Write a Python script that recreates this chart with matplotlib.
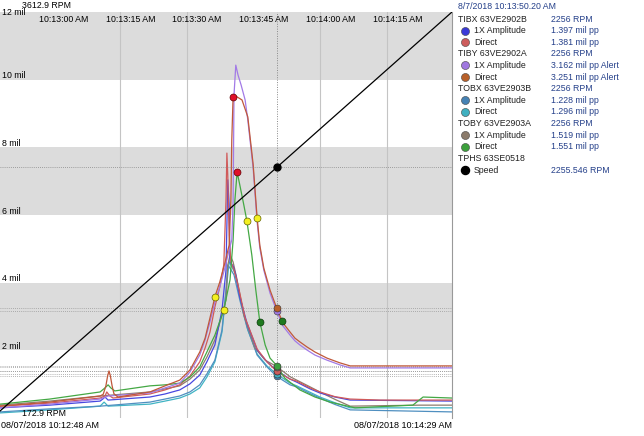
import matplotlib
matplotlib.use("Agg")
import matplotlib.pyplot as plt
from matplotlib.lines import Line2D
from matplotlib.transforms import blended_transform_factory

plt.rcParams['font.family'] = ['Liberation Sans', 'DejaVu Sans']
FS = 6.3

# ---------------- data (time in s since 10:12:48, amplitude in mil pp) ----------------
tiby_dir_t = [0, 11.2, 22.5, 23.2, 23.8, 24.2, 24.5, 24.8, 25.2, 25.6, 26.5, 33.7, 37.1, 40.4, 42.7, 44.9,
              46.1, 47.2, 48.3, 49.4, 50.6, 51.5, 51.9, 52.1, 52.4, 53.3, 54.4, 55.7, 56.9, 57.8, 58.4,
              59.3, 60.7, 62.2, 63.6, 65.2, 66.3, 67.4, 69.0, 70.8, 73.5, 76.4, 78.7, 85.4, 94.4, 101.6]
tiby_dir_v = [0.35, 0.47, 0.65, 0.70, 0.95, 1.25, 1.39, 1.25, 0.95, 0.72, 0.62, 0.77, 0.95, 1.12, 1.42, 1.95,
              2.36, 2.96, 3.58, 4.02, 4.61, 5.11, 6.44, 8.22, 9.52, 9.49, 9.40, 8.90, 7.50, 5.91, 5.11,
              4.43, 3.78, 3.25, 2.81, 2.54, 2.36, 2.25, 2.10, 1.95, 1.77, 1.63, 1.54, 1.54, 1.54, 1.54]

tiby_1x_t = [0, 11.2, 22.5, 24.3, 33.7, 37.1, 40.4, 42.7, 44.9, 46.1, 47.2, 48.3, 49.4, 50.6, 51.5, 52.1,
             52.4, 52.6, 53.0, 53.5, 54.2, 55.1, 55.7, 56.9, 57.8, 58.4, 59.3, 60.7, 62.2, 63.6, 65.2,
             66.3, 67.4, 69.0, 70.8, 73.5, 76.4, 78.7, 101.6]
tiby_1x_v = [0.30, 0.41, 0.56, 0.65, 0.74, 0.89, 1.03, 1.36, 1.86, 2.31, 2.84, 3.43, 3.87, 4.46, 4.97, 5.26,
             6.44, 9.55, 10.43, 10.14, 9.84, 9.40, 8.81, 7.39, 5.79, 5.03, 4.37, 3.69, 3.16, 2.72, 2.45,
             2.28, 2.16, 2.01, 1.86, 1.71, 1.57, 1.48, 1.48]

tibx_dir_t = [0, 11.2, 22.5, 23.6, 24.0, 24.7, 25.4, 33.7, 37.1, 40.4, 42.7, 44.9, 46.1, 47.2, 48.3, 49.4,
              50.3, 50.8, 51.0, 51.2, 51.5, 51.9, 52.6, 53.5, 55.1, 57.8, 60.0, 62.2, 65.2, 66.7, 69.7,
              71.9, 75.3, 78.7, 85.4, 101.6]
tibx_dir_v = [0.35, 0.44, 0.59, 0.65, 0.77, 0.65, 0.59, 0.71, 0.83, 0.98, 1.24, 1.66, 2.07, 2.54, 3.28, 3.87,
              4.52, 6.44, 7.83, 7.18, 5.41, 4.61, 4.37, 3.93, 2.96, 2.04, 1.66, 1.38, 1.15, 1.09, 0.89,
              0.77, 0.63, 0.56, 0.53, 0.53]

tibx_1x_t = [0, 11.2, 22.5, 23.1, 23.6, 24.3, 33.7, 37.1, 40.4, 42.7, 44.9, 46.5, 48.3, 49.9, 50.8, 51.2,
             51.5, 51.7, 52.4, 53.0, 53.9, 55.5, 57.8, 60.0, 62.2, 65.2, 66.7, 69.7, 71.9, 75.3, 78.7, 101.6]
tibx_1x_v = [0.30, 0.38, 0.50, 0.56, 0.62, 0.53, 0.62, 0.71, 0.83, 1.01, 1.27, 1.66, 2.16, 3.19, 4.37, 7.04,
             6.30, 4.61, 4.49, 4.23, 3.58, 2.81, 2.01, 1.66, 1.40, 1.15, 1.06, 0.86, 0.74, 0.62, 0.53, 0.50]

tobx_1x_t = [0, 11.2, 22.5, 33.7, 37.1, 40.4, 42.7, 44.9, 46.5, 48.3, 49.9, 50.8, 51.2, 51.7, 52.6, 53.9,
             55.5, 57.8, 60.0, 62.2, 65.2, 66.7, 69.7, 71.9, 75.3, 78.7, 101.6]
tobx_1x_v = [0.18, 0.27, 0.35, 0.47, 0.56, 0.65, 0.77, 0.98, 1.30, 1.71, 2.60, 3.78, 4.52, 4.43, 4.23, 3.49,
             2.69, 1.86, 1.51, 1.23, 0.98, 0.92, 0.72, 0.59, 0.40, 0.24, 0.18]

tobx_dir_t = [0, 11.2, 22.5, 23.4, 24.3, 33.7, 37.1, 40.4, 42.7, 44.9, 46.5, 48.3, 49.9, 50.8, 51.5, 51.9,
              52.8, 54.2, 55.7, 57.8, 60.0, 62.2, 65.2, 66.7, 69.7, 71.9, 75.3, 78.7, 101.6]
tobx_dir_v = [0.15, 0.24, 0.35, 0.47, 0.35, 0.41, 0.50, 0.59, 0.71, 0.89, 1.21, 1.66, 2.54, 3.72, 4.61, 4.52,
              4.29, 3.43, 2.60, 1.89, 1.54, 1.30, 1.03, 0.95, 0.76, 0.62, 0.45, 0.30, 0.30]

toby_1x_t = [0, 11.2, 22.5, 33.7, 37.1, 40.4, 42.7, 44.9, 46.5, 48.3, 49.9, 50.8, 51.2, 51.7, 52.4, 53.3,
             54.8, 57.3, 59.6, 62.2, 65.2, 66.7, 69.7, 71.9, 75.3, 78.7, 94.4, 101.6]
toby_1x_v = [0.38, 0.50, 0.65, 0.77, 0.86, 0.95, 1.15, 1.42, 1.80, 2.31, 3.04, 3.49, 4.52, 4.82, 4.61, 4.08,
             3.04, 2.07, 1.71, 1.52, 1.22, 1.12, 0.92, 0.77, 0.55, 0.35, 0.38, 0.38]

toby_dir_t = [0, 11.2, 22.5, 23.6, 24.3, 24.9, 25.8, 33.7, 37.1, 40.4, 42.7, 44.9, 46.5, 48.3, 50.3, 51.7,
              52.4, 52.8, 53.3, 53.9, 54.8, 55.5, 56.6, 57.5, 58.4, 59.6, 60.7, 62.2, 64.0, 67.4, 70.8,
              74.2, 79.8, 92.8, 95.1, 101.6]
toby_dir_v = [0.41, 0.56, 0.77, 0.89, 0.98, 0.89, 0.80, 0.95, 0.98, 1.03, 1.21, 1.51, 1.95, 2.45, 3.19, 4.08,
              5.26, 6.44, 7.27, 6.89, 6.30, 5.82, 4.82, 3.78, 2.84, 2.16, 1.77, 1.55, 1.18, 0.83, 0.62,
              0.47, 0.30, 0.38, 0.62, 0.59]

speed_t = [0, 62.2, 101.6]
speed_rpm = [232, 2296, 3613]

cursor_t = 62.2
cursor_vals = [1.397, 1.381, 3.162, 3.251, 1.228, 1.296, 1.519, 1.551]

peak_t = [52.4, 53.3]
peak_v = [9.49, 7.27]
half_t = [48.3, 50.3, 55.5, 57.8]
half_v = [3.58, 3.19, 5.82, 5.91]
mark_t = [58.4, 63.4]
mark_v = [2.84, 2.87]

tick_secs = [12, 27, 42, 57, 72, 87]
tick_labels = ["10:13:00 AM", "10:13:15 AM", "10:13:30 AM", "10:13:45 AM", "10:14:00 AM", "10:14:15 AM"]
grid_secs = [27, 42, 72, 87]
mil_levels = [2, 4, 6, 8, 10, 12]

series_names = ["1X Amplitude", "Direct"] * 4
groups = ["TIBX 63VE2902B", "TIBY 63VE2902A", "TOBX 63VE2903B", "TOBY 63VE2903A"]
group_rpm = ["2256 RPM"] * 4
value_texts = ["1.397 mil pp", "1.381 mil pp", "3.162 mil pp Alert", "3.251 mil pp Alert",
               "1.228 mil pp", "1.296 mil pp", "1.519 mil pp", "1.551 mil pp"]
colors = ["#3a3ad8", "#cd5c5c", "#a078e0", "#b8602a", "#4682b4", "#3fb0c0", "#8b7b6b", "#3ca03c"]
line_colors = ["#4848e0", "#d05a5a", "#a27ae6", "#c0583a", "#4f8fc0", "#40b4c4", "#8d7d6d", "#44a844"]

# ---------------- figure ----------------
W, H = 644, 436
fig = plt.figure(figsize=(W / 100, H / 100), dpi=100)
ax = fig.add_axes([0, 18 / H, 452 / W, 406 / H])
ax.set_xlim(0, 101.6)
ax.set_ylim(0, 12)
for s in ["top", "left", "bottom"]:
    ax.spines[s].set_visible(False)
ax.spines["right"].set_color("#999999")
ax.spines["right"].set_linewidth(0.8)
ax.set_xticks([])
ax.set_yticks([])

for lo in [2, 6, 10]:
    ax.axhspan(lo, lo + 2, color="#dcdcdc", lw=0, zorder=0)
for g in grid_secs:
    ax.axvline(g, color="#c4c4c4", lw=0.8, zorder=1)

# cursor lines
ax.axvline(cursor_t, color="#888888", lw=0.7, ls=(0, (1, 1.5)), zorder=2)
for v in cursor_vals:
    ax.axhline(v, color="#999999", lw=0.6, ls=(0, (1, 1.5)), zorder=2)

all_t = [tibx_1x_t, tibx_dir_t, tiby_1x_t, tiby_dir_t, tobx_1x_t, tobx_dir_t, toby_1x_t, toby_dir_t]
all_v = [tibx_1x_v, tibx_dir_v, tiby_1x_v, tiby_dir_v, tobx_1x_v, tobx_dir_v, toby_1x_v, toby_dir_v]
order = [5, 4, 6, 0, 1, 7, 2, 3]
for i in order:
    ax.plot(all_t[i], all_v[i], color=line_colors[i], lw=0.9, zorder=3, solid_joinstyle="round")

ax.plot(peak_t, peak_v, 'o', color="#e0102a", mec="#600000", mew=0.5, ms=5, zorder=6)
ax.plot(half_t, half_v, 'o', color="#f4f020", mec="#606000", mew=0.5, ms=5, zorder=6)
ax.plot(mark_t, mark_v, 'o', color="#1f7a1f", mec="#0a3a0a", mew=0.5, ms=5, zorder=6)
for i in [4, 5, 0, 1, 6, 7, 2, 3]:
    ax.plot([cursor_t], [cursor_vals[i]], 'o', color=colors[i], mec="#333333", mew=0.4, ms=5, zorder=6)

# y labels
for v in mil_levels:
    if v == 12:
        ax.text(0.45, v, f"{v} mil", fontsize=FS, ha="left", va="center", zorder=8)
    else:
        ax.text(0.45, v + 0.04, f"{v} mil", fontsize=FS, ha="left", va="baseline", zorder=8)

# top time labels
trans = blended_transform_factory(ax.transData, ax.transAxes)
for s, lab in zip(tick_secs, tick_labels):
    ax.text(s + 2.3, 1 - 7 / 406, lab, fontsize=FS, ha="center", va="center", transform=trans, zorder=8)

# speed on twin axis
ax2 = ax.twinx()
ax2.set_ylim(172.9, 3612.9)
ax2.axis("off")
ax2.set_xlim(0, 101.6)
ax2.axhline(speed_rpm[1], color="#888888", lw=0.6, ls=(0, (1, 1.5)), zorder=2)
ax2.plot(speed_t, speed_rpm, color="black", lw=0.9, zorder=4, clip_on=True)
ax2.plot([speed_t[1]], [speed_rpm[1]], 'o', color="black", ms=5, zorder=6)

def px(x, y):
    return x / W, 1 - y / H

fig.text(*px(22, 6), "3612.9 RPM", fontsize=FS, ha="left", va="center")
fig.text(*px(22, 413), "172.9 RPM", fontsize=FS, ha="left", va="center")
fig.text(*px(1, 425), "08/07/2018 10:12:48 AM", fontsize=FS + 0.2, ha="left", va="center")
fig.text(*px(452, 425), "08/07/2018 10:14:29 AM", fontsize=FS + 0.2, ha="right", va="center")

# ---------------- legend panel ----------------
navy = "#25408a"
fig.text(*px(458, 6.5), "8/7/2018 10:13:50.20 AM", fontsize=FS, ha="left", va="center", color=navy)
row = 19.0
step = 11.62
for g in range(4):
    fig.text(*px(458, row), groups[g], fontsize=FS, ha="left", va="center", color="#222222")
    fig.text(*px(551, row), group_rpm[g], fontsize=FS, ha="left", va="center", color=navy)
    row += step
    for k in range(2):
        i = 2 * g + k
        fig.add_artist(Line2D([465 / W], [1 - row / H], marker='o', color=colors[i], mec="#444444",
                              mew=0.4, ms=5.8, ls="none"))
        fig.text(*px(474, row), series_names[i], fontsize=FS, ha="left", va="center", color="#222222")
        fig.text(*px(551, row), value_texts[i], fontsize=FS, ha="left", va="center", color=navy)
        row += step
fig.text(*px(458, row), "TPHS 63SE0518", fontsize=FS, ha="left", va="center", color="#222222")
row += step
fig.add_artist(Line2D([465 / W], [1 - row / H], marker='o', color="black", ms=5.8, ls="none"))
fig.text(*px(474, row), "Speed", fontsize=FS, ha="left", va="center", color="#222222")
fig.text(*px(551, row), "2255.546 RPM", fontsize=FS, ha="left", va="center", color=navy)

fig.savefig("out.png", dpi=100)
